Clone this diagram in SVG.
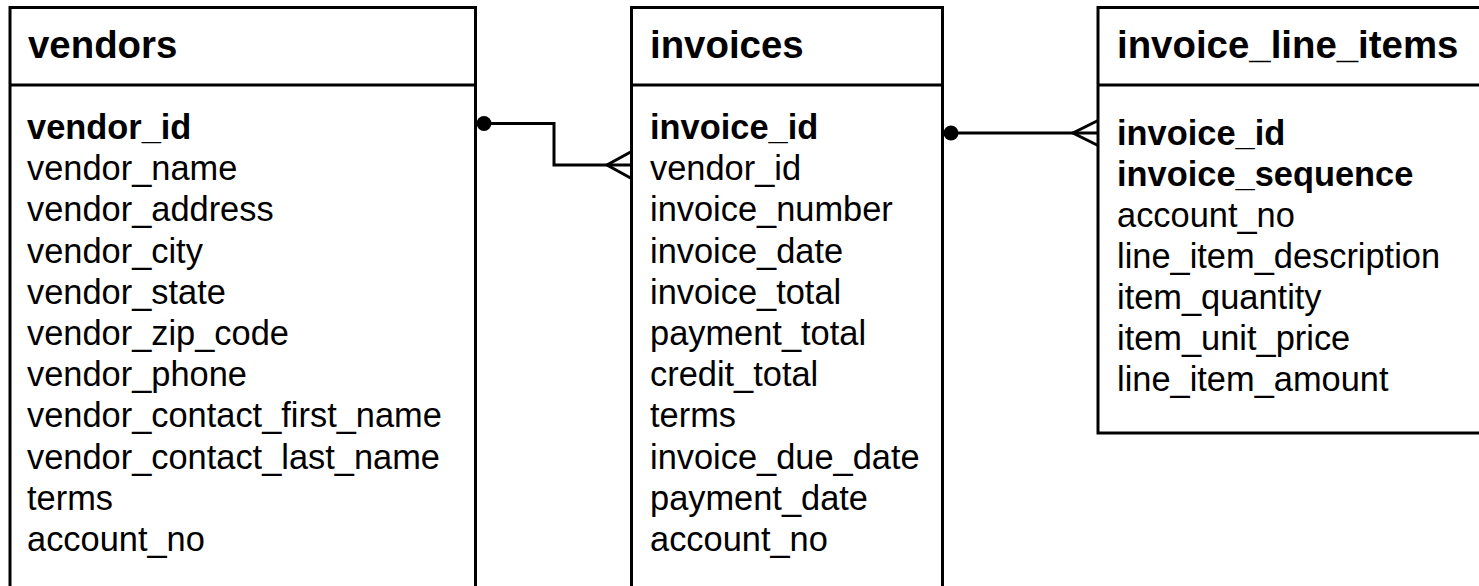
<svg xmlns="http://www.w3.org/2000/svg" width="1479" height="586" viewBox="0 0 1479 586">
  <style>
    .box { fill: #ffffff; stroke: #000000; stroke-width: 3; }
    .sep { stroke: #000000; stroke-width: 3; }
    .title { font-family: "Liberation Sans", Arial, sans-serif; font-size: 38.4px; font-weight: bold; fill: #000000; }
    .col { font-family: "Liberation Sans", Arial, sans-serif; font-size: 34.4px; fill: #000000; }
    .key { font-weight: bold; }
    .link { fill: none; stroke: #000000; stroke-width: 3; }
    .dot { fill: #000000; }
  </style>
  <rect width="1479" height="586" fill="#ffffff"/>

  <g id="vendors">
    <rect class="box" x="10" y="7.5" width="465.5" height="600"/>
    <line class="sep" x1="10" y1="85" x2="475.5" y2="85"/>
    <text class="title" x="28" y="57.5">vendors</text>
    <text class="col" x="27">
      <tspan class="key" x="27" y="139">vendor_id</tspan>
      <tspan x="27" y="180.2">vendor_name</tspan>
      <tspan x="27" y="221.4">vendor_address</tspan>
      <tspan x="27" y="262.6">vendor_city</tspan>
      <tspan x="27" y="303.8">vendor_state</tspan>
      <tspan x="27" y="345">vendor_zip_code</tspan>
      <tspan x="27" y="386.2">vendor_phone</tspan>
      <tspan x="27" y="427.4">vendor_contact_first_name</tspan>
      <tspan x="27" y="468.6">vendor_contact_last_name</tspan>
      <tspan x="27" y="509.8">terms</tspan>
      <tspan x="27" y="551">account_no</tspan>
    </text>
  </g>

  <g id="invoices">
    <rect class="box" x="631.5" y="7.5" width="311" height="600"/>
    <line class="sep" x1="631.5" y1="85" x2="942.5" y2="85"/>
    <text class="title" x="650" y="57.5">invoices</text>
    <text class="col" x="650">
      <tspan class="key" x="650" y="139">invoice_id</tspan>
      <tspan x="650" y="180.2">vendor_id</tspan>
      <tspan x="650" y="221.4">invoice_number</tspan>
      <tspan x="650" y="262.6">invoice_date</tspan>
      <tspan x="650" y="303.8">invoice_total</tspan>
      <tspan x="650" y="345">payment_total</tspan>
      <tspan x="650" y="386.2">credit_total</tspan>
      <tspan x="650" y="427.4">terms</tspan>
      <tspan x="650" y="468.6">invoice_due_date</tspan>
      <tspan x="650" y="509.8">payment_date</tspan>
      <tspan x="650" y="551">account_no</tspan>
    </text>
  </g>

  <g id="invoice_line_items">
    <rect class="box" x="1098" y="7.5" width="400" height="425.5"/>
    <line class="sep" x1="1098" y1="85" x2="1498" y2="85"/>
    <text class="title" x="1117" y="57.5">invoice_line_items</text>
    <text class="col" x="1117">
      <tspan class="key" x="1117" y="145">invoice_id</tspan>
      <tspan class="key" x="1117" y="186">invoice_sequence</tspan>
      <tspan x="1117" y="227">account_no</tspan>
      <tspan x="1117" y="268">line_item_description</tspan>
      <tspan x="1117" y="309">item_quantity</tspan>
      <tspan x="1117" y="350">item_unit_price</tspan>
      <tspan x="1117" y="391">line_item_amount</tspan>
    </text>
  </g>

  <g id="connectors">
    <!-- vendors (one) to invoices (many) -->
    <circle class="dot" cx="484" cy="123.5" r="7.5"/>
    <polyline class="link" points="484,123.5 554,123.5 554,165 631.5,165"/>
    <polyline class="link" points="631.5,151.5 607,165 631.5,178.5"/>
    <!-- invoices (one) to invoice_line_items (many) -->
    <circle class="dot" cx="951" cy="133" r="7.5"/>
    <line class="link" x1="951" y1="133" x2="1098" y2="133"/>
    <polyline class="link" points="1098,120.5 1073,133 1098,145.5"/>
  </g>
</svg>
